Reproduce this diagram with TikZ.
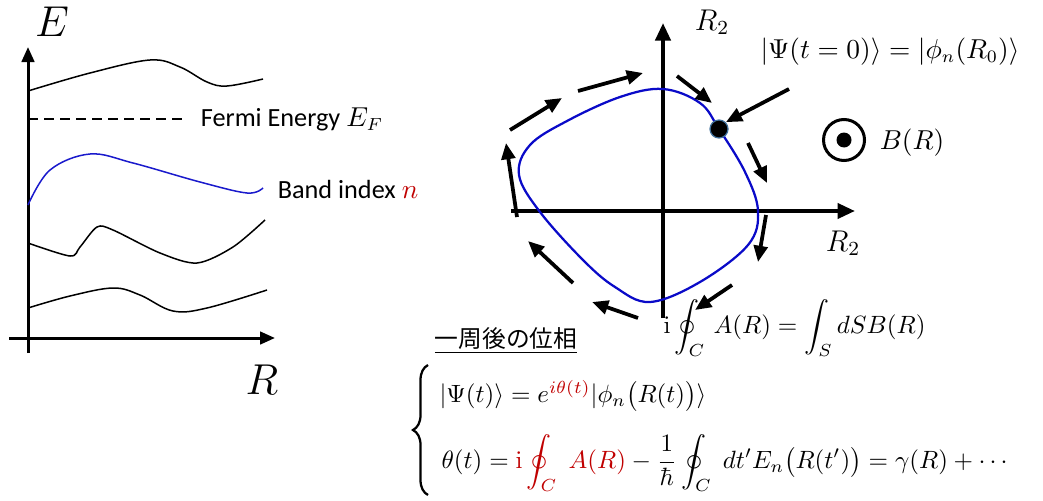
\documentclass[tikz,border=0pt]{standalone}
\usepackage[no-math]{fontspec}
\setmainfont{Carlito}
\newfontfamily\jpfont{Noto Sans CJK JP}
\usepackage{amsmath}
\usepackage{xcolor}
\usepackage{tikz}
\usetikzlibrary{arrows.meta,decorations.pathreplacing}
\definecolor{bandMavi}{HTML}{1A1ACC}
\definecolor{donguMavi}{HTML}{0A0AC8}
\definecolor{denklemKirmizi}{HTML}{C00000}
\definecolor{noktaKenar}{HTML}{41719C}

\begin{document}
\begin{tikzpicture}[x=0.4pt,y=-0.4pt,
  eksen/.style={-{Triangle[length=6pt,width=5pt]},line width=1.2pt},
  kalinEksen/.style={-{Triangle[length=7pt,width=6pt]},line width=1.6pt},
  yonOku/.style={-{Triangle[length=6.5pt,width=5.5pt]},line width=1.5pt},
  bant/.style={line width=0.6pt},
  formul/.style={font=\fontsize{10.6}{13}\selectfont}]
\useasboundingbox (0,0) rectangle (1043,500);
\begin{scope}
\draw[eksen] (28,353)--(28,47);
\draw[eksen] (9,338)--(275,338);
\node (eLbl) at (52,22) {\fontsize{17}{20}\selectfont $E$};
\node (rLbl) at (262,380) {\fontsize{17}{20}\selectfont $R$};
\draw[bant] plot[smooth,tension=0.6] coordinates {(28,91) (90,73) (150,60) (180,67) (207,82) (227,86) (263,79)};
\draw[bant,dashed,dash pattern=on 4pt off 2.4pt] (28,119)--(185,119);
\node[anchor=west] (fermi) at (192,119) {\fontsize{10.5}{12}\selectfont Fermi Energy $E_F$};
\draw[bant,bandMavi] plot[smooth,tension=0.6] coordinates {(28,205) (50,170) (90,154) (133,163) (200,182) (247,193) (263,188)};
\node[anchor=west] (bandIdx) at (269,189) {\fontsize{10.5}{12}\selectfont Band index \textcolor{denklemKirmizi}{$n$}};
\draw[bant] plot[smooth,tension=0.5] coordinates {(28,243) (70,256) (80,247) (97,227) (113,230) (160,253) (197,263) (233,247) (265,220)};
\draw[bant] plot[smooth,tension=0.6] coordinates {(28,308) (70,296) (113,288) (140,295) (173,311) (207,308) (267,290)};
\end{scope}
\begin{scope}
\draw[kalinEksen] (663,318)--(663,23);
\draw[kalinEksen] (511,211)--(855,211);
\node (r2Ust) at (712,22) {\fontsize{12}{14}\selectfont $R_2$};
\node (r2Sag) at (843,243) {\fontsize{12}{14}\selectfont $R_2$};
\draw[donguMavi,line width=0.9pt] plot[smooth cycle,tension=0.6] coordinates {(663,89) (700,103) (719,129) (745,172) (758,211) (748,245) (700,282) (650,302) (615,287) (583,260) (540,212) (519,175) (530,145) (567,121) (620,97)};
\node[circle,fill=black,draw=noktaKenar,line width=0.5pt,inner sep=0pt,minimum size=7.2pt] (nokta) at (719,129) {};
\coordinate (psiUc) at (789,89);
\draw[yonOku] (psiUc)--(nokta.north east);
\node[formul] (psi0) at (890,52) {$|\Psi(t=0)\rangle=|\phi_n(R_0)\rangle$};
\draw[yonOku] (677,76)--(712,103);
\draw[yonOku] (748,143)--(767,183);
\draw[yonOku] (766,215)--(758,262);
\draw[yonOku] (732,285)--(695,310);
\draw[yonOku] (638,318)--(592,302);
\draw[yonOku] (573,283)--(528,241);
\draw[yonOku] (517,217)--(506,143);
\draw[yonOku] (510,130)--(562,98);
\draw[yonOku] (578,91)--(643,73);
\node[circle,draw,line width=1.2pt,inner sep=0pt,minimum size=16.4pt] (bSembol) at (844,140) {};
\fill (bSembol.center) circle (3pt);
\node[formul,anchor=west] (bLbl) at (871,143) {$B(R)$};
\end{scope}
\node[anchor=west] (isou) at (426,341) {\jpfont\fontsize{9.5}{11}\selectfont\underline{一周後の位相}};
\node[anchor=west,inner sep=0pt,font=\fontsize{9.6}{12}\selectfont] (stokes) at (663,328) {$\displaystyle\mathrm{i}\oint_C\,A(R)=\int_S dSB(R)$};
\draw[line width=0.9pt,decorate,decoration={brace,amplitude=6pt}] (428,495)--(428,365);
\node[anchor=west,inner sep=0pt,font=\fontsize{9.8}{12}\selectfont] (satir1) at (439,396) {$|\Psi(t)\rangle=e^{\textcolor{denklemKirmizi}{i\theta(t)}}|\phi_n\bigl(R(t)\bigr)\rangle$};
\node[anchor=west,inner sep=0pt,font=\fontsize{10.3}{12}\selectfont] (satir2) at (441,463) {$\displaystyle\theta(t)=\textcolor{denklemKirmizi}{\mathrm{i}\oint_C\;A(R)}-\frac{1}{\hbar}\oint_C\;dt'E_n\bigl(R(t')\bigr)=\gamma(R)+\cdots$};
\end{tikzpicture}
\end{document}
